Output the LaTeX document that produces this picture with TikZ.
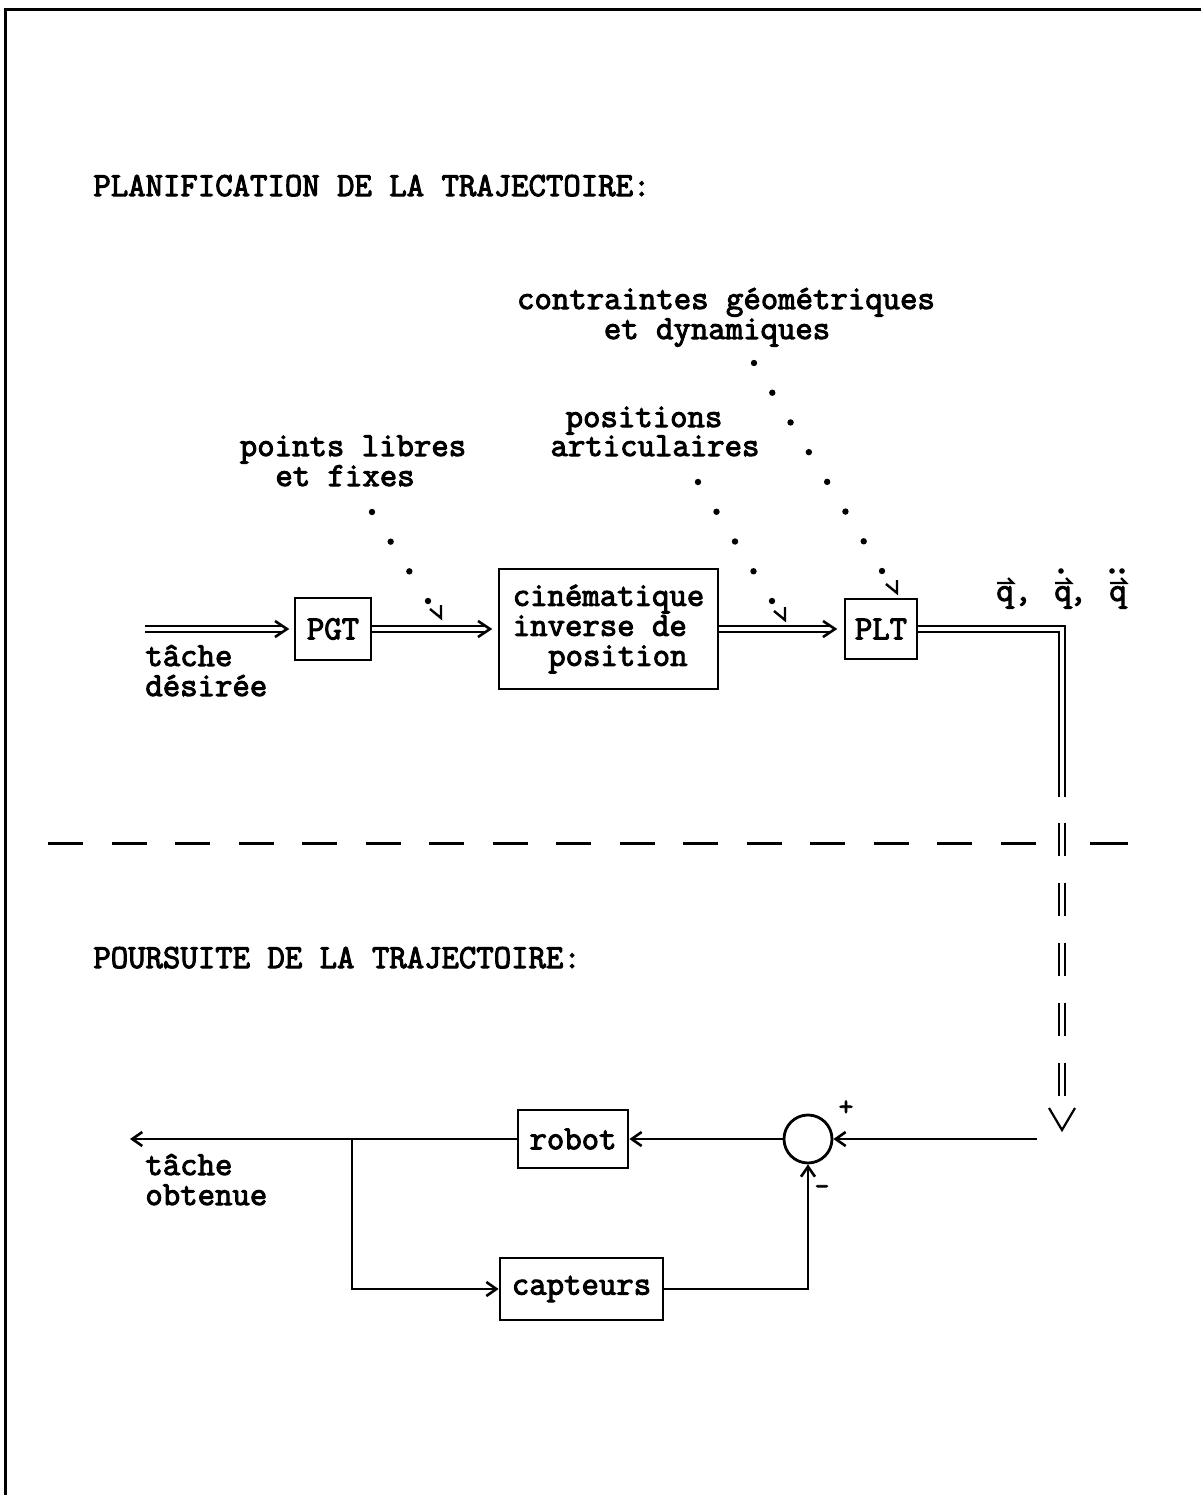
\documentclass[tikz,border=0pt]{standalone}
\usepackage{fontspec}
\newfontfamily\cour[FakeBold=3]{Latin Modern Mono}
\usetikzlibrary{arrows.meta,calc}
\newcommand\dotrow[3]{\foreach \k in {0,...,#3}{\fill ($(#1)!{\k/#3}!(#2)$) circle (1.6pt);}}
\newcommand\hookat[1]{\draw[line width=1.2pt] ($(#1)+(-11,-9)$) -- (#1) -- ($(#1)+(0,-13)$);}
\newcommand\chevat[1]{\draw[chev] ($(#1)+(-12,-8)$) -- (#1) -- ($(#1)+(-12,8)$);}
\begin{document}
\begin{tikzpicture}[x=0.5pt,y=-0.5pt,
  txt/.style={font=\cour\fontsize{16.9pt}{15pt}\selectfont, inner sep=0pt},
  small/.style={font=\cour\fontsize{14pt}{14pt}\selectfont, inner sep=0pt},
  blk/.style={draw, line width=1.4pt, inner sep=0pt, font=\cour\fontsize{16.9pt}{15pt}\selectfont},
  dbl/.style={double, line width=1.2pt, double distance=1.6pt},
  chev/.style={line width=1.3pt, line join=miter},
  arr/.style={line width=1.3pt, -{Straight Barb[length=5pt,width=7pt]}}
]
\useasboundingbox (0,0) rectangle (1201,1495);
\draw[line width=1.5pt] (5,1495) -- (5,9) -- (1201,9);

% titles
\node[txt, anchor=base west] (plan) at (93,196) {PLANIFICATION DE LA TRAJECTOIRE:};
\node[txt, anchor=base west] (pours) at (93,968) {POURSUITE DE LA TRAJECTOIRE:};

% labels
\node[txt, anchor=base] (cg1) at (726,309) {contraintes géométriques};
\node[txt, anchor=base] (cg2) at (717,339) {et dynamiques};
\node[txt, anchor=base] (pa1) at (644,427) {positions};
\node[txt, anchor=base] (pa2) at (655,456) {articulaires};
\node[txt, anchor=base] (pl1) at (353,456) {points libres};
\node[txt, anchor=base] (pl2) at (345,486) {et fixes};
\node[txt, anchor=base west] (td1) at (145,666) {tâche};
\node[txt, anchor=base west] (td2) at (145,696) {désirée};
\node[txt, anchor=base west] (to1) at (145,1175) {tâche};
\node[txt, anchor=base west] (to2) at (145,1205) {obtenue};

% blocks
\node[blk, minimum width=38pt, minimum height=31pt] (pgt) at (333,629) {PGT};
\node[blk, minimum width=109.5pt, minimum height=60pt, align=left] (cin) at (608.5,629) {cinématique\\inverse de\\\hspace*{1.05em}position};
\node[blk, minimum width=36pt, minimum height=30pt] (plt) at (881,629) {PLT};
\node[blk, minimum width=55pt, minimum height=29pt] (robot) at (573,1139) {robot};
\node[blk, minimum width=81.5pt, minimum height=31pt] (capt) at (581.5,1289) {capteurs};
\node[draw, circle, line width=1.4pt, minimum size=24pt, inner sep=0pt] (sum) at (808,1139) {};
\node[small] (plus) at (846,1108) {+};
\node[small] (minus) at (822,1190) {-};

% q labels
\node[txt, anchor=base] (q1) at (1005,601) {q};
\node[txt, anchor=base] (c1) at (1023,601) {,};
\node[txt, anchor=base] (q2) at (1063,601) {q};
\node[txt, anchor=base] (c2) at (1078,601) {,};
\node[txt, anchor=base] (q3) at (1118,601) {q};
\foreach \q in {q1,q2,q3}{\draw[line width=1.1pt] ($(\q.base)+(-8,-18)$) -- ++(16,0) -- ++(-5,-5);}
\fill ($(q2.base)+(-2,-30)$) circle (1.4pt);
\fill ($(q3.base)+(-6,-30)$) circle (1.4pt);
\fill ($(q3.base)+(4,-30)$) circle (1.4pt);

% double-line connectors
\coordinate (in) at (145,629);
\coordinate (tip0) at (287,629);
\coordinate (tip1) at (490,629);
\coordinate (tip2) at (835,629);
\draw[dbl] (in) -- ($(tip0)+(-4,0)$);
\chevat{tip0}
\draw[dbl] (pgt.east) -- ($(tip1)+(-4,0)$);
\chevat{tip1}
\draw[dbl] (cin.east) -- ($(tip2)+(-4,0)$);
\chevat{tip2}
\coordinate (brk) at (1062,797);
\draw[dbl] (plt.east) -| (brk);
\coordinate (dA) at (1062,823);
\coordinate (dB) at (1062,1096);
\draw[dbl, dash pattern=on 16.5pt off 13.5pt] (dA) -- (dB);
\coordinate (vtip) at (1062,1130);
\draw[line width=1.1pt] ($(vtip)+(-13,-22)$) -- (vtip) -- ($(vtip)+(13,-22)$);

% dotted connectors
\coordinate (d1a) at (372,512); \coordinate (d1b) at (428,601); \coordinate (h1) at (441,618);
\dotrow{d1a}{d1b}{3}\hookat{h1}
\coordinate (d2a) at (698,482); \coordinate (d2b) at (772,601); \coordinate (h2) at (785,620);
\dotrow{d2a}{d2b}{4}\hookat{h2}
\coordinate (d3a) at (754,363); \coordinate (d3b) at (882,571); \coordinate (h3) at (897,593);
\dotrow{d3a}{d3b}{7}\hookat{h3}

% separator
\draw[line width=1.5pt, dash pattern=on 17.5pt off 14.25pt] (48,843) -- (1036,843);
\draw[line width=1.5pt] (1090,843) -- (1128,843);

% feedback loop
\coordinate (fb) at (1037,1139);
\coordinate (out) at (130,1139);
\coordinate (br) at (352,1139);
\draw[arr] (fb) -- (sum.east);
\draw[arr] (sum.west) -- (robot.east);
\draw[arr] (robot.west) -- (out);
\draw[arr] (br) |- (capt.west);
\draw[arr] (capt.east) -| (sum.south);
\end{tikzpicture}
\end{document}
